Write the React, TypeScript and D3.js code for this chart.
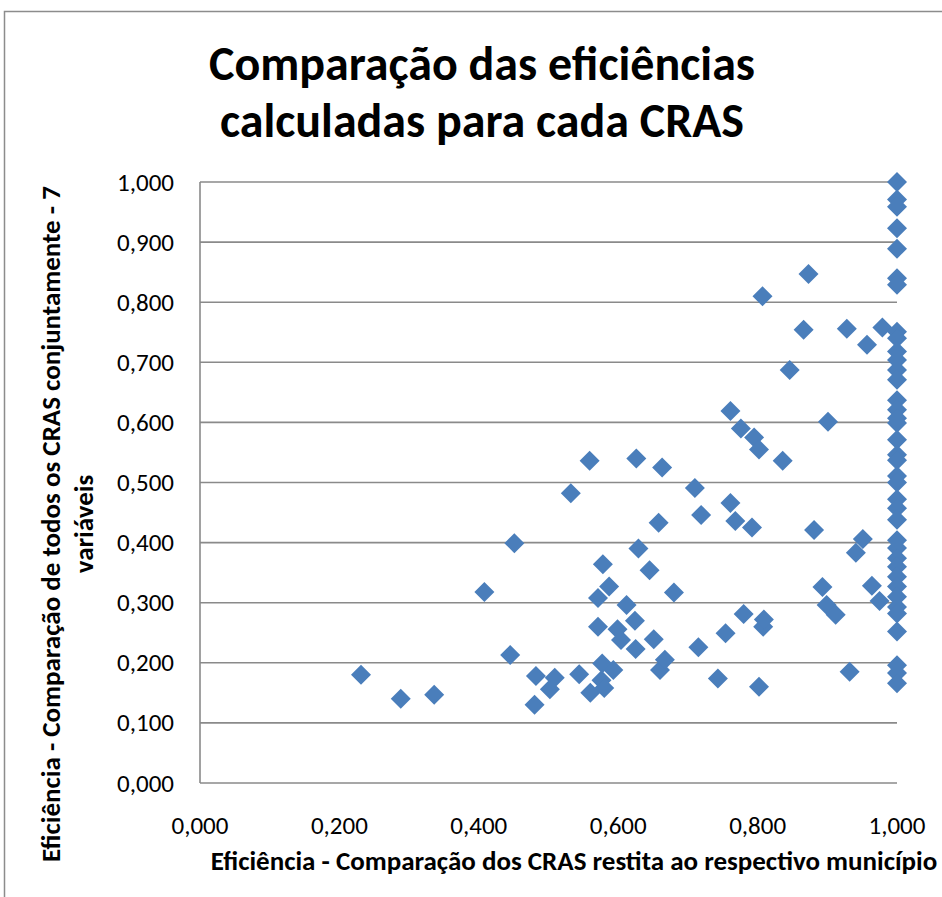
import React, { useEffect, useRef } from 'react';
import * as d3 from 'd3';

// Efficiency per CRAS: x = compared inside its own municipality, y = all CRAS together (7 variables)
const municipioEff = [
  0.231, 0.288, 0.336, 0.408, 0.445, 0.451, 0.480, 0.482, 0.502, 0.509,
  0.532, 0.544, 0.559, 0.560, 0.571, 0.571, 0.576, 0.577, 0.578, 0.580,
  0.587, 0.593, 0.599, 0.604, 0.612, 0.624, 0.625, 0.626, 0.629, 0.645,
  0.651, 0.658, 0.660, 0.663, 0.667, 0.680, 0.710, 0.715, 0.719, 0.743,
  0.754, 0.761, 0.761, 0.768, 0.776, 0.780, 0.792, 0.795, 0.802, 0.802,
  0.807, 0.808, 0.809, 0.836, 0.846, 0.866, 0.873, 0.881, 0.893, 0.899,
  0.901, 0.912, 0.928, 0.932, 0.941, 0.951, 0.957, 0.964, 0.975, 0.979
];
const conjuntoEff = [
  0.180, 0.140, 0.147, 0.318, 0.213, 0.399, 0.130, 0.178, 0.156, 0.175,
  0.482, 0.181, 0.536, 0.150, 0.308, 0.260, 0.171, 0.199, 0.364, 0.158,
  0.327, 0.188, 0.256, 0.238, 0.296, 0.270, 0.223, 0.540, 0.390, 0.354,
  0.239, 0.433, 0.188, 0.525, 0.205, 0.317, 0.491, 0.226, 0.446, 0.174,
  0.249, 0.619, 0.466, 0.436, 0.590, 0.281, 0.425, 0.575, 0.555, 0.160,
  0.810, 0.260, 0.272, 0.536, 0.687, 0.754, 0.847, 0.421, 0.326, 0.296,
  0.601, 0.280, 0.756, 0.185, 0.383, 0.406, 0.729, 0.328, 0.303, 0.758
];

// CRAS that scored 1,000 inside their municipality: only the joint score differs
const fullScoreConjuntoEff = [
  1.000, 0.971, 0.959, 0.923, 0.889, 0.840, 0.829, 0.751, 0.740, 0.718,
  0.704, 0.687, 0.671, 0.637, 0.621, 0.607, 0.599, 0.571, 0.546, 0.537,
  0.511, 0.500, 0.472, 0.457, 0.438, 0.404, 0.391, 0.374, 0.360, 0.343,
  0.327, 0.310, 0.293, 0.282, 0.252, 0.196, 0.183, 0.166
];

const xTicks = [0, 0.2, 0.4, 0.6, 0.8, 1.0];
const yTicks = [0, 0.1, 0.2, 0.3, 0.4, 0.5, 0.6, 0.7, 0.8, 0.9, 1.0];

const titleLines = ['Comparação das eficiências', 'calculadas para cada CRAS'];
const xTitle = 'Eficiência - Comparação dos CRAS restita ao respectivo município';
const yTitleLines = ['Eficiência - Comparação de todos os CRAS conjuntamente - 7', 'variáveis'];

const FONT = 'Carlito, Lato, "Noto Sans", sans-serif';
const GRID = '#8a8a8a';
const MARKER = '#4a7ebb';

const App = () => {
  const svgRef = useRef<SVGSVGElement>(null);

  useEffect(() => {
    const svg = d3.select(svgRef.current);
    svg.selectAll('*').remove();

    const width = 942;
    const height = 897;
    const plot = { left: 200, right: 897, top: 182, bottom: 783 };

    // pt-BR number format: comma as decimal mark
    const fmt = d3.formatLocale({
      decimal: ',', thousands: '.', grouping: [3], currency: ['R$', '']
    }).format('.3f');

    const x = d3.scaleLinear().domain([0, 1]).range([plot.left, plot.right]);
    const y = d3.scaleLinear().domain([0, 1]).range([plot.bottom, plot.top]);

    svg.attr('width', width).attr('height', height);

    svg.append('rect')
      .attr('width', width).attr('height', height)
      .attr('fill', '#fff');

    // chart area border (runs off the right and bottom of the picture)
    svg.append('rect')
      .attr('x', 4.5).attr('y', 11.5)
      .attr('width', 1200).attr('height', 1200)
      .attr('fill', 'none')
      .attr('stroke', '#8c8c8c')
      .attr('stroke-width', 1.5);

    // title
    svg.append('text')
      .attr('x', 482)
      .attr('text-anchor', 'middle')
      .attr('font-family', FONT)
      .attr('font-weight', 'bold')
      .attr('font-size', 48)
      .selectAll('tspan')
      .data(titleLines)
      .enter().append('tspan')
      .attr('x', 482)
      .attr('y', (d, i) => 80 + i * 57)
      .text(d => d);

    // horizontal gridlines
    svg.append('g')
      .selectAll('line')
      .data(yTicks.filter(t => t > 0))
      .enter().append('line')
      .attr('x1', plot.left).attr('x2', plot.right)
      .attr('y1', d => y(d)).attr('y2', d => y(d))
      .attr('stroke', GRID)
      .attr('stroke-width', 1.6);

    // axis lines
    svg.append('line')
      .attr('x1', plot.left).attr('x2', plot.left)
      .attr('y1', plot.top).attr('y2', plot.bottom)
      .attr('stroke', GRID).attr('stroke-width', 1.6);
    svg.append('line')
      .attr('x1', plot.left).attr('x2', plot.right)
      .attr('y1', plot.bottom).attr('y2', plot.bottom)
      .attr('stroke', GRID).attr('stroke-width', 1.6);

    // tick labels
    svg.append('g')
      .selectAll('text')
      .data(yTicks)
      .enter().append('text')
      .attr('x', 174)
      .attr('y', d => y(d))
      .attr('dy', '0.34em')
      .attr('text-anchor', 'end')
      .attr('font-family', FONT)
      .attr('font-size', 25)
      .text(d => fmt(d));

    svg.append('g')
      .selectAll('text')
      .data(xTicks)
      .enter().append('text')
      .attr('x', d => x(d))
      .attr('y', 834)
      .attr('text-anchor', 'middle')
      .attr('font-family', FONT)
      .attr('font-size', 25)
      .text(d => fmt(d));

    // axis titles
    svg.append('text')
      .attr('x', 574)
      .attr('y', 870)
      .attr('text-anchor', 'middle')
      .attr('font-family', FONT)
      .attr('font-weight', 'bold')
      .attr('font-size', 27)
      .text(xTitle);

    svg.append('g')
      .selectAll('text')
      .data(yTitleLines)
      .enter().append('text')
      .attr('transform', (d, i) => `translate(${60 + i * 33},524) rotate(-90)`)
      .attr('text-anchor', 'middle')
      .attr('font-family', FONT)
      .attr('font-weight', 'bold')
      .attr('font-size', 27)
      .text(d => d);

    // points
    const points = [
      ...municipioEff.map((m, i) => ({ m, c: conjuntoEff[i] })),
      ...fullScoreConjuntoEff.map(c => ({ m: 1.0, c }))
    ];

    const diamond = d3.symbol().type(d3.symbolSquare).size(200);

    svg.append('g')
      .selectAll('path')
      .data(points)
      .enter().append('path')
      .attr('d', diamond)
      .attr('transform', d => `translate(${x(d.m)},${y(d.c)}) rotate(45)`)
      .attr('fill', MARKER);
  }, []);

  return (
    <svg
      ref={svgRef}
      style={{ position: 'absolute', left: 0, top: 0, display: 'block' }}
    />
  );
};

export default App;
